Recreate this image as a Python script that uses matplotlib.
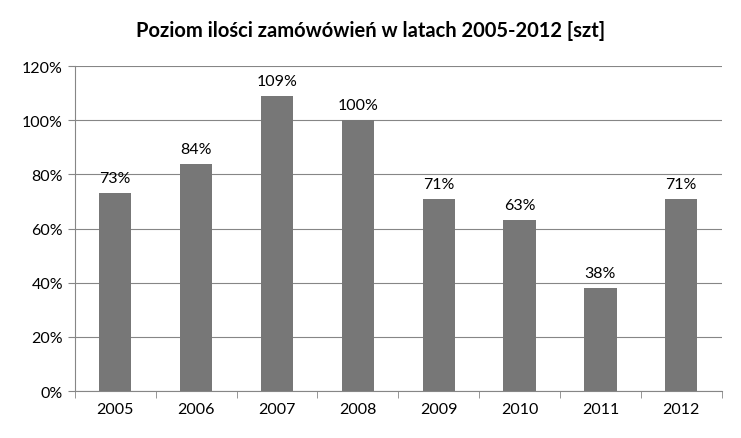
import matplotlib
matplotlib.use("Agg")
import matplotlib.pyplot as plt
from matplotlib.ticker import FixedLocator

years = ["2005", "2006", "2007", "2008", "2009", "2010", "2011", "2012"]
values = [73, 84, 109, 100, 71, 63, 38, 71]
labels = ["73%", "84%", "109%", "100%", "71%", "63%", "38%", "71%"]
yticks = [0, 20, 40, 60, 80, 100, 120]

plt.rcParams["font.family"] = "Lato"
fig = plt.figure(figsize=(7.41, 4.39), dpi=100)
ax = fig.add_axes([0.101, 0.107, 0.873, 0.740])
x = range(len(years))
ax.bar(x, values, width=0.4, color="#777777", zorder=3)
for xi, v, l in zip(x, values, labels):
    ax.text(xi, v + 3, l, ha="center", va="bottom", fontsize=11.5, color="#000000")
ax.set_xlim(-0.5, len(years) - 0.5)
ax.set_ylim(0, 120)
ax.set_yticks(yticks)
ax.set_yticklabels([f"{t}%" for t in yticks], fontsize=11.5)
ax.set_xticks(list(x))
ax.set_xticklabels(years, fontsize=11.5)
ax.tick_params(axis="x", length=0, pad=8)
ax.xaxis.set_minor_locator(FixedLocator([i - 0.5 for i in range(len(years) + 1)]))
ax.tick_params(axis="x", which="minor", length=5, color="#868686")
ax.tick_params(axis="y", length=5, color="#868686")
ax.grid(axis="y", color="#868686", linewidth=0.8, zorder=0)
for s in ["top", "right"]:
    ax.spines[s].set_visible(False)
for s in ["left", "bottom"]:
    ax.spines[s].set_color("#868686")
fig.text(0.5, 0.93, "Poziom ilości zamówówień w latach 2005-2012 [szt]", ha="center",
         va="center", fontsize=14.5, fontweight="bold")
fig.savefig("out.png", dpi=100)
